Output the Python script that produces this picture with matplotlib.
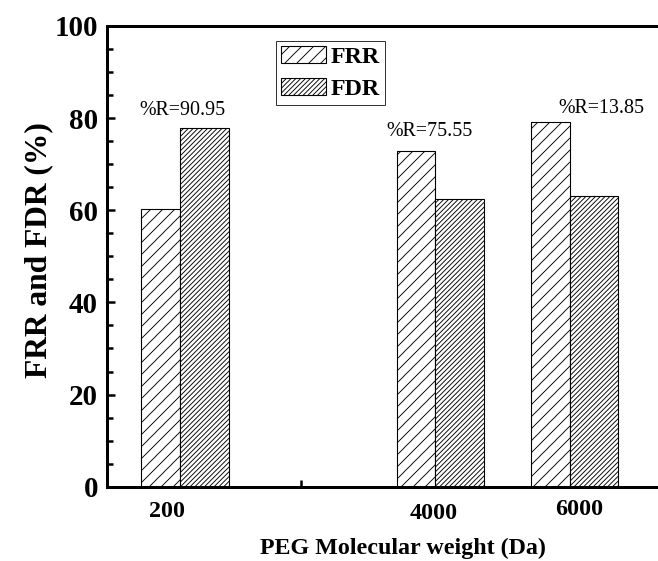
import matplotlib
matplotlib.use("Agg")
import matplotlib.pyplot as plt
from matplotlib.transforms import ScaledTranslation

# ---- data ----
categories = ["200", "4000", "6000"]
group_pos = [1.10, 3.0, 4.0]          # position of each group along the x axis
frr = [60.2, 72.8, 79.1]
fdr = [77.8, 62.5, 63.2]
r_labels = ["%R=90.95", "%R=75.55", "%R=13.85"]
r_label_x = [1.114, 2.959, 4.235]
r_label_y = [80.6, 76.2, 81.2]
tick_pos = [1, 2, 3, 4]
tick_labels = ["200", "", "4000", "6000"]

plt.rcParams["font.family"] = ["Liberation Serif", "DejaVu Serif"]
plt.rcParams["hatch.linewidth"] = 0.9
plt.rcParams["hatch.color"] = "black"

DPI = 72
fig = plt.figure(figsize=(658 / DPI, 561 / DPI), dpi=DPI)
ax = fig.add_axes([107 / 658, (561 - 486.7) / 561, 563.7 / 658, 460.7 / 561])

w_frr = 0.29
w_fdr = 0.36
x_frr = [p - w_frr / 2 for p in group_pos]
x_fdr = [p + w_fdr / 2 for p in group_pos]
b1 = ax.bar(x_frr, frr, width=w_frr, facecolor="white", edgecolor="black",
            linewidth=1.1, hatch="//", label="FRR", zorder=2)
b2 = ax.bar(x_fdr, fdr, width=w_fdr, facecolor="white", edgecolor="black",
            linewidth=1.1, hatch="/////", label="FDR", zorder=2)

for txt, x, y in zip(r_labels, r_label_x, r_label_y):
    ax.text(x, y, txt, ha="center", va="baseline", fontsize=20,
            fontweight="normal")

ax.set_xlim(0.556, 4.75)
ax.set_ylim(0, 100)
ax.set_yticks(range(0, 101, 20))
ax.set_yticks(range(0, 101, 5), minor=True)
ax.set_xticks(tick_pos)
ax.set_xticklabels(tick_labels)

for s in ["left", "bottom", "top"]:
    ax.spines[s].set_linewidth(3)
ax.spines["right"].set_visible(False)

ax.tick_params(axis="y", which="major", direction="in", length=8, width=2.5,
               labelsize=29, pad=9, right=False)
ax.tick_params(axis="y", which="minor", direction="in", length=5.5, width=2.5,
               right=False)
ax.tick_params(axis="x", which="major", direction="in", length=7, width=2.5,
               labelsize=24, pad=14, top=False)
ax.tick_params(axis="x", which="minor", bottom=False, top=False)

for lab in ax.get_yticklabels() + ax.get_xticklabels():
    lab.set_fontweight("bold")

offsets = {"4000": (-2, -2), "6000": (9, 2)}
for lab in ax.get_xticklabels():
    t = lab.get_text()
    if t in offsets:
        dx, dy = offsets[t]
        lab.set_transform(lab.get_transform() +
                          ScaledTranslation(dx / DPI, dy / DPI, fig.dpi_scale_trans))

ax.set_ylabel("FRR and FDR (%)", fontsize=31.5, fontweight="bold", labelpad=1)
ax.yaxis.label.set_y((486.7 - 250) / 460.7)
ax.set_xlabel("PEG Molecular weight (Da)", fontsize=24, fontweight="bold")
ax.xaxis.set_label_coords((402.8 - 107) / 563.7, -(538 - 486.7) / 460.7)

leg = ax.legend(handles=[b1, b2], loc="upper left",
                bbox_to_anchor=((276 - 107) / 563.7, (486.7 - 41) / 460.7),
                frameon=True, fancybox=False, shadow=False,
                prop={"family": "Liberation Serif", "weight": "bold", "size": 24},
                handlelength=1.875, handleheight=0.71, handletextpad=0.2,
                borderpad=0.22, labelspacing=0.42, borderaxespad=0)
leg.get_frame().set_edgecolor("black")
leg.get_frame().set_linewidth(1.0)

fig.savefig("out.png", dpi=DPI)
